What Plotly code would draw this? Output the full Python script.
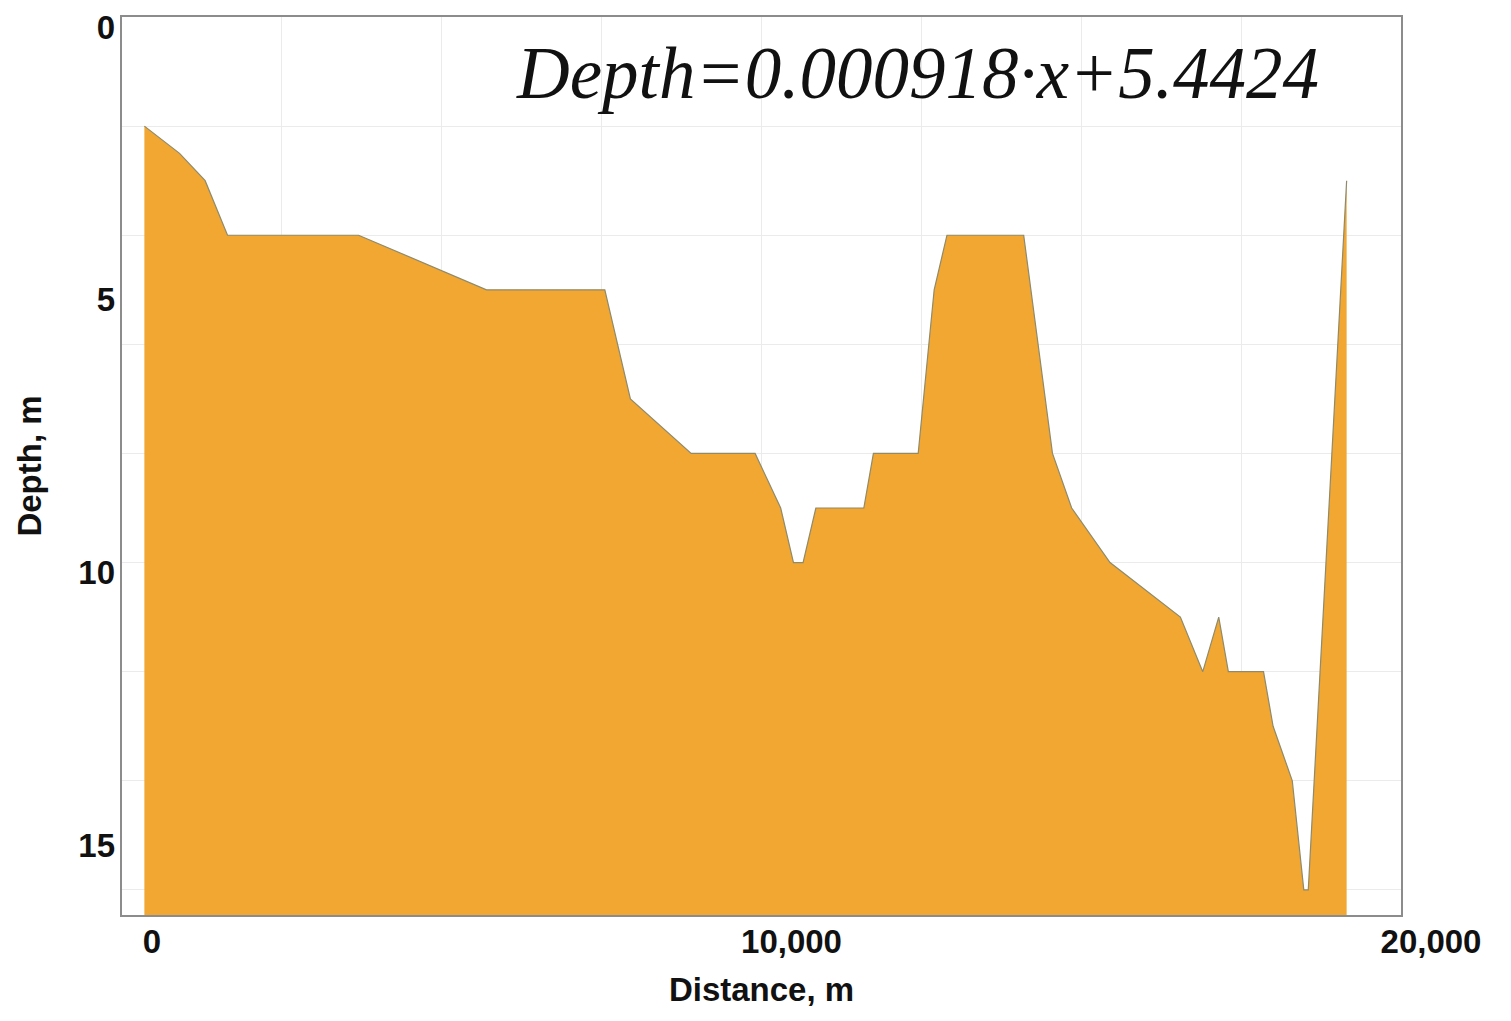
import plotly.graph_objects as go

# ---- data ----
distance_m = [350, 900, 1300, 1650, 3700, 5700, 7550, 7950, 8900, 9900,
              10300, 10500, 10650, 10850, 11600, 11750, 12450, 12700, 12900,
              14100, 14550, 14850, 15450, 16550, 16900, 17150, 17300, 17850,
              18000, 18300, 18480, 18550, 19150]
depth_m = [2, 2.5, 3, 4, 4, 5, 5, 7, 8, 8,
           9, 10, 10, 9, 9, 8, 8, 5, 4,
           4, 8, 9, 10, 11, 12, 11, 12, 12,
           13, 14, 16, 16, 3]

x_range = [0, 20000]
y_range = [16.46, -0.0001]          # reversed: depth grows downward
y_tick_labels = [0, 5, 10, 15]
equation = "Depth=0.000918\u00b7x+5.4424"

FILL = "#F1A731"
EDGE = "#8f8a6a"
GRID = "#ebebeb"
BORDER = "#8c8c8c"

fig = go.Figure()

# baseline at the bottom of the axis (for filling downward on reversed axis)
fig.add_trace(go.Scatter(
    x=[distance_m[0], distance_m[-1]], y=[y_range[0], y_range[0]],
    mode="lines", line=dict(width=0, color=FILL),
    showlegend=False, hoverinfo="skip"))

fig.add_trace(go.Scatter(
    x=distance_m, y=depth_m, mode="lines",
    line=dict(color=EDGE, width=1.2),
    fill="tonexty", fillcolor=FILL, showlegend=False))

# dummy trace to activate the label axis
fig.add_trace(go.Scatter(
    x=distance_m[:1], y=depth_m[:1], yaxis="y2", mode="lines",
    line=dict(width=0), showlegend=False, hoverinfo="skip"))

tick_font = dict(family="Liberation Sans, Arial", size=33, color="#111111", weight="bold")

fig.update_layout(
    width=1511, height=1021,
    margin=dict(l=114, r=118, t=9, b=114),
    paper_bgcolor="white", plot_bgcolor="white",
    xaxis=dict(
        range=x_range, dtick=10000, tick0=0, tickformat=",",
        showgrid=True, gridcolor=GRID, gridwidth=1,
        minor=dict(dtick=2500, tick0=0, showgrid=True, gridcolor=GRID, gridwidth=1),
        showline=True, mirror=True, linecolor=BORDER, linewidth=2,
        zeroline=False, ticks="", tickfont=tick_font,
        ticklabelshift=30, ticklabelstandoff=-4, automargin=False,
        title=dict(text="Distance, m", font=tick_font, standoff=19),
    ),
    yaxis=dict(
        range=y_range, dtick=2, tick0=0,
        showgrid=True, gridcolor=GRID, gridwidth=1,
        showline=True, mirror=True, linecolor=BORDER, linewidth=2,
        zeroline=False, ticks="", showticklabels=False, automargin=False,
    ),
    yaxis2=dict(
        range=y_range, overlaying="y", side="left",
        tickvals=y_tick_labels, showgrid=False, zeroline=False,
        showline=False, ticks="", tickfont=tick_font, ticklabelstandoff=6,
        ticklabeloverflow="allow", ticklabelshift=-10, automargin=False,
        title=dict(text="Depth, m", font=tick_font, standoff=26),
    ),
    annotations=[dict(
        text=equation, xref="paper", yref="paper",
        x=0.6216, y=0.9376, xanchor="center", yanchor="middle",
        showarrow=False,
        font=dict(family="Liberation Serif, Times New Roman", size=73,
                  style="italic", color="#111111"),
    )],
)

fig.write_html("out.html")
